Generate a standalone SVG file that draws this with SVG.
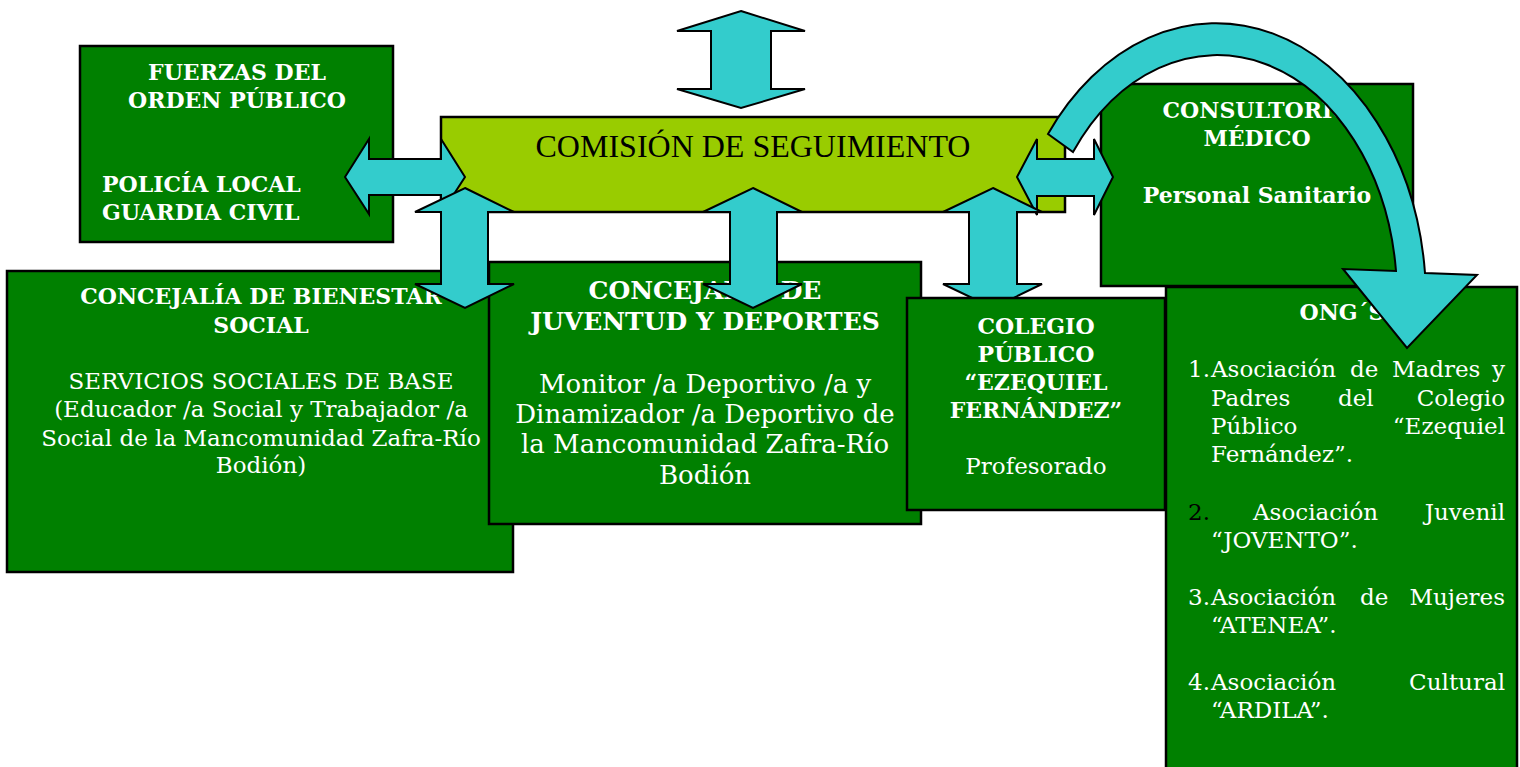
<svg xmlns="http://www.w3.org/2000/svg" width="1520" height="767" viewBox="0 0 1520 767">
<style>
.box{fill:#008000;stroke:#000;stroke-width:2.5}
.lime{fill:#99CC00;stroke:#000;stroke-width:2.5}
.arr{fill:#33CCCC;stroke:#000;stroke-width:2;stroke-linejoin:miter}
.hb{font-family:"DejaVu Serif","Liberation Serif",serif;font-weight:bold;font-size:22px;fill:#fff}
.hb2{font-family:"DejaVu Serif","Liberation Serif",serif;font-weight:bold;font-size:25px;fill:#fff}
.rg{font-family:"DejaVu Serif","Liberation Serif",serif;font-size:23px;fill:#fff}
.rg2{font-family:"DejaVu Serif","Liberation Serif",serif;font-size:26px;fill:#fff}
.c{text-anchor:middle}
.e{text-anchor:end}
</style>
<rect width="1520" height="767" fill="#fff"/>
<g id="fuerzas">
<rect class="box" x="80" y="46" width="313" height="196"/>
<text class="hb c" x="237" y="80">FUERZAS DEL</text>
<text class="hb c" x="237" y="108">ORDEN PÚBLICO</text>
<text class="hb" x="102" y="192">POLICÍA LOCAL</text>
<text class="hb" x="102" y="220">GUARDIA CIVIL</text>
</g>
<g id="comision">
<rect class="lime" x="441" y="117" width="624" height="95"/>
<text x="753" y="157" text-anchor="middle" font-family="Liberation Serif, serif" font-size="32" fill="#000">COMISIÓN DE SEGUIMIENTO</text>
</g>
<g id="bienestar">
<rect class="box" x="7" y="271" width="506" height="301"/>
<text class="hb c" x="261" y="304">CONCEJALÍA DE BIENESTAR</text>
<text class="hb c" x="261" y="333">SOCIAL</text>
<text class="rg c" x="261" y="389">SERVICIOS SOCIALES DE BASE</text>
<text class="rg c" x="261" y="417">(Educador /a Social y Trabajador /a</text>
<text class="rg c" x="261" y="446">Social de la Mancomunidad Zafra-Río</text>
<text class="rg c" x="261" y="473">Bodión)</text>
</g>
<g id="juventud">
<rect class="box" x="489" y="262" width="432" height="262"/>
<text class="hb2 c" x="705" y="299">CONCEJALÍA DE</text>
<text class="hb2 c" x="705" y="330">JUVENTUD Y DEPORTES</text>
<text class="rg2 c" x="705" y="393">Monitor /a Deportivo /a y</text>
<text class="rg2 c" x="705" y="423">Dinamizador /a Deportivo de</text>
<text class="rg2 c" x="705" y="453">la Mancomunidad Zafra-Río</text>
<text class="rg2 c" x="705" y="484">Bodión</text>
</g>
<g id="consultorio">
<rect class="box" x="1101" y="84" width="312" height="202"/>
<text class="hb c" x="1257" y="118">CONSULTORIO</text>
<text class="hb c" x="1257" y="146">MÉDICO</text>
<text class="hb c" x="1257" y="203">Personal Sanitario</text>
</g>
<g id="ongs">
<rect class="box" x="1166" y="287" width="351" height="500"/>
<text class="hb c" x="1342" y="320">ONG´S</text>
<g class="rg">
<text x="1188" y="377">1.</text>
<text x="1211" y="377">Asociación</text>
<text x="1350" y="377">de</text>
<text x="1392" y="377">Madres</text>
<text class="e" x="1505" y="377">y</text>
<text x="1211" y="406">Padres</text>
<text x="1338" y="406">del</text>
<text class="e" x="1505" y="406">Colegio</text>
<text x="1211" y="434">Público</text>
<text class="e" x="1505" y="434">“Ezequiel</text>
<text x="1211" y="462">Fernández”.</text>
<text x="1188" y="520" fill="#000">2.</text>
<text x="1253" y="520">Asociación</text>
<text class="e" x="1505" y="520">Juvenil</text>
<text x="1211" y="548">“JOVENTO”.</text>
<text x="1188" y="605">3.</text>
<text x="1211" y="605">Asociación</text>
<text x="1360" y="605">de</text>
<text class="e" x="1505" y="605">Mujeres</text>
<text x="1211" y="633">“ATENEA”.</text>
<text x="1188" y="690">4.</text>
<text x="1211" y="690">Asociación</text>
<text class="e" x="1505" y="690">Cultural</text>
<text x="1211" y="718">“ARDILA”.</text>
</g>
</g>
<g id="connectors">
<polygon class="arr" points="741,11 805,31 771,31 771,89 805,89 741,108 677,89 711,89 711,31 677,31"/>
<polygon class="arr" points="345,177 369,139 369,159 441,159 441,139 465,177 441,214 441,195 369,195 369,214"/>
<polygon class="arr" points="1017,177 1037,139 1037,159 1094,159 1094,139 1113,177 1094,215 1094,196 1037,196 1037,215"/>
<polygon class="arr" points="465,188 514,212 488,212 488,284 514,284 465,308 415,284 441,284 441,212 415,212"/>
<polygon class="arr" points="753,188 802,212 777,212 777,284 802,284 753,308 703,284 730,284 730,212 703,212"/>
<polygon class="arr" points="993,188 1042,212 1017,212 1017,284 1042,284 993,308 943,284 969,284 969,212 943,212"/>
<path class="arr" d="M1048,134 A210,277 0 0 1 1425,273 L1477,275 L1407,348 L1343,269 L1396,271 A180,242 0 0 0 1073,152 Z"/>
</g>
<g id="colegio">
<rect class="box" x="907" y="298" width="258" height="212"/>
<text class="hb c" x="1036" y="334">COLEGIO</text>
<text class="hb c" x="1036" y="362">PÚBLICO</text>
<text class="hb c" x="1036" y="390">“EZEQUIEL</text>
<text class="hb c" x="1036" y="418">FERNÁNDEZ”</text>
<text class="rg c" x="1036" y="474">Profesorado</text>
</g>
</svg>
